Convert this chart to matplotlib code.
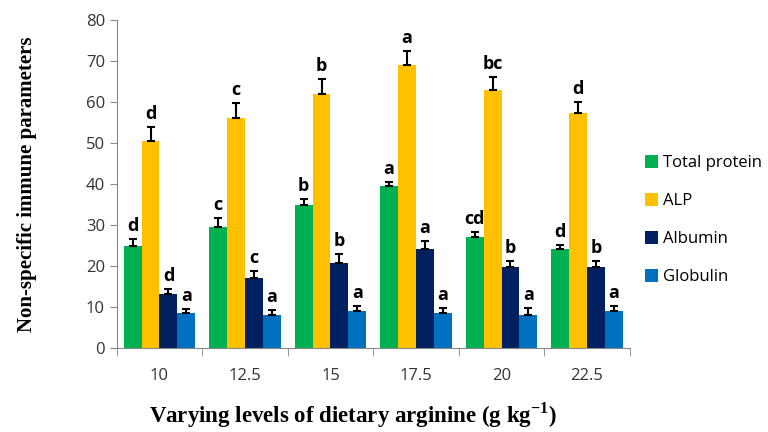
import numpy as np
import matplotlib.pyplot as plt

plt.rcParams['mathtext.fontset'] = 'custom'
plt.rcParams['mathtext.rm'] = 'Liberation Serif:bold'
plt.rcParams['mathtext.bf'] = 'Liberation Serif:bold'

levels = ['10', '12.5', '15', '17.5', '20', '22.5']
series = ['Total protein', 'ALP', 'Albumin', 'Globulin']
colors = ['#00B050', '#FFC000', '#002060', '#0070C0']

total_protein = [25.0, 29.5, 34.8, 39.5, 27.0, 24.2]
alp = [50.5, 56.2, 62.0, 69.0, 62.8, 57.2]
albumin = [13.2, 17.2, 20.8, 24.2, 19.8, 19.8]
globulin = [8.5, 8.2, 9.0, 8.5, 8.2, 9.0]

err_tp = [1.6, 2.3, 1.5, 1.0, 1.2, 1.0]
err_alp = [3.3, 3.5, 3.5, 3.5, 3.3, 2.8]
err_alb = [1.3, 1.5, 2.2, 1.8, 1.5, 1.5]
err_glob = [1.0, 1.2, 1.2, 1.2, 1.5, 1.2]

lab_tp = ['d', 'c', 'b', 'a', 'cd', 'd']
lab_alp = ['d', 'c', 'b', 'a', 'bc', 'd']
lab_alb = ['d', 'c', 'b', 'a', 'b', 'b']
lab_glob = ['a', 'a', 'a', 'a', 'a', 'a']

values = [total_protein, alp, albumin, globulin]
errors = [err_tp, err_alp, err_alb, err_glob]
letters = [lab_tp, lab_alp, lab_alb, lab_glob]

fig = plt.figure(figsize=(7.68, 4.32), dpi=100)
ax = fig.add_axes([0.152, 0.194, 0.668, 0.76])

x = np.arange(len(levels))
width = 0.21
for i in range(4):
    pos = x + (i - 1.5) * width
    ax.bar(pos, values[i], width, color=colors[i], label=series[i],
           yerr=[np.zeros(len(levels)), errors[i]], capsize=3,
           error_kw=dict(ecolor='black', elinewidth=1.5, capthick=1.5))
    for p, v, e, t in zip(pos, values[i], errors[i], letters[i]):
        ax.text(p, v + e + 1.0, t, ha='center', va='bottom',
                fontsize=13, fontweight='bold', family='Open Sans')

ax.set_xlim(-0.5, len(levels) - 0.5)
ax.set_ylim(0, 80)
ax.set_yticks(range(0, 81, 10))
ax.set_xticks(x)
ax.set_xticklabels(levels)
ax.set_xticks(np.arange(-0.5, len(levels), 1), minor=True)
ax.tick_params(axis='x', which='major', length=0, pad=14)
ax.tick_params(axis='x', which='minor', length=6, color='#888888')
ax.tick_params(axis='y', length=5, color='#888888')
for lbl in ax.get_xticklabels() + ax.get_yticklabels():
    lbl.set_family('Open Sans')
    lbl.set_fontsize(12)
    lbl.set_color('#333333')

for s in ['top', 'right']:
    ax.spines[s].set_visible(False)
for s in ['left', 'bottom']:
    ax.spines[s].set_color('#888888')

ax.set_ylabel('Non-specific immune parameters', family='Liberation Serif',
              fontweight='bold', fontsize=15)
ax.yaxis.set_label_coords(-0.156, 0.5)
ax.set_xlabel('Varying levels of dietary arginine (g kg$^{-1}$)',
              family='Liberation Serif', fontweight='bold', fontsize=16.5)
ax.xaxis.set_label_coords(0.46, -0.16)

ax.legend(loc='center left', bbox_to_anchor=(1.0, 0.39), frameon=False,
          prop={'family': 'Open Sans', 'size': 12}, handlelength=0.8,
          handleheight=0.8, handletextpad=0.3, labelspacing=1.3)

fig.savefig('out.png', dpi=100)
